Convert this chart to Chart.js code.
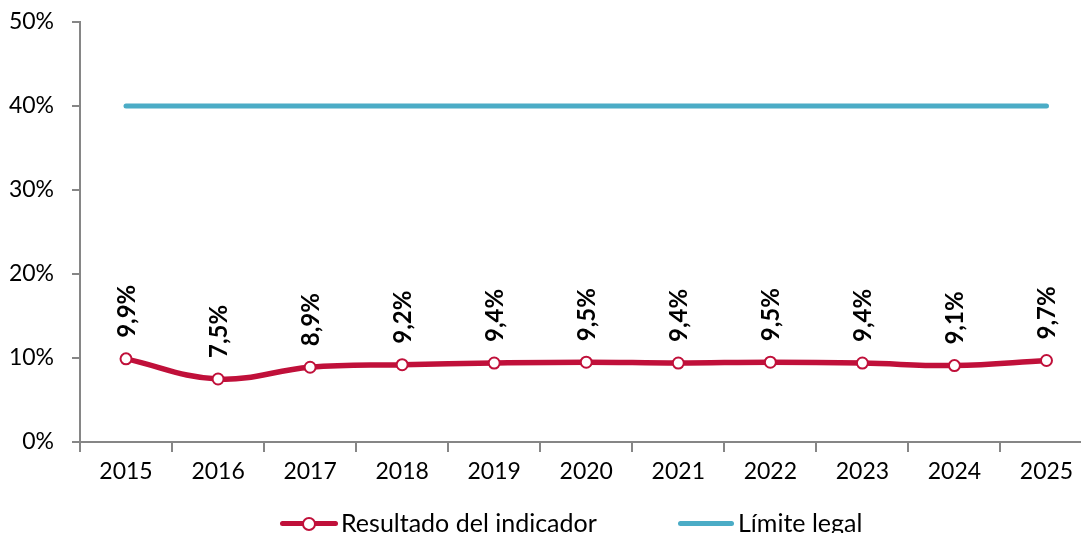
<!DOCTYPE html>
<html lang="es">
<head>
<meta charset="utf-8">
<title>Resultado del indicador</title>
<script src="https://cdn.jsdelivr.net/npm/chart.js@4/dist/chart.umd.min.js"></script>
<style>
  html, body { margin: 0; padding: 0; background: #fff; }
  #wrap { position: relative; width: 1081px; height: 533px; overflow: hidden; }
  #chartBox { position: absolute; left: 0; top: 0; width: 1100px; height: 533px; }
  #legend {
    position: absolute; left: 0; top: 507px; width: 1081px; height: 30px;
    font-family: Lato, sans-serif; font-size: 25px; color: #000;
  }
  .leg-item { position: absolute; top: 0; display: flex; align-items: center; height: 30px; }
  .leg-sym { position: relative; height: 30px; }
  .leg-sym .bar { position: absolute; left: 0; right: 0; top: 14px; height: 5px; border-radius: 3px; }
  .leg-sym .dot {
    position: absolute; left: 50%; top: 10px; width: 10px; height: 10px; margin-left: -7px;
    border: 2px solid #C0103A; border-radius: 50%; background: #fff;
  }
</style>
</head>
<body>
<div id="wrap">
  <div id="chartBox"><canvas id="indicadorChart"></canvas></div>
  <div id="legend">
    <div class="leg-item" style="left:280px">
      <span class="leg-sym" style="width:58px"><span class="bar" style="background:#C0103A"></span><span class="dot"></span></span>
      <span style="margin-left:3px">Resultado del indicador</span>
    </div>
    <div class="leg-item" style="left:678px">
      <span class="leg-sym" style="width:56px"><span class="bar" style="background:#4BACC6"></span></span>
      <span style="margin-left:4px">Límite legal</span>
    </div>
  </div>
</div>
<script>
(function () {
    'use strict';

    // ── Data ────────────────────────────────────────────────────
    const years     = ['2015', '2016', '2017', '2018', '2019', '2020', '2021', '2022', '2023', '2024', '2025'];
    const resultado = [9.9, 7.5, 8.9, 9.2, 9.4, 9.5, 9.4, 9.5, 9.4, 9.1, 9.7];
    const limite    = [40, 40, 40, 40, 40, 40, 40, 40, 40, 40, 40];
    const yTicks    = [0, 10, 20, 30, 40, 50];

    const RED  = '#C0103A';
    const BLUE = '#4BACC6';
    const AXIS = '#868686';
    const FONT = 'Lato, sans-serif';

    function formatPct(v) {
        return v.toFixed(1).replace('.', ',') + '%';
    }

    // Vertical value labels above the indicator points
    const valueLabels = {
        id: 'valueLabels',
        afterDatasetsDraw(chart) {
            const ctx  = chart.ctx;
            const meta = chart.getDatasetMeta(0);
            ctx.save();
            ctx.font = 'bold 24px ' + FONT;
            ctx.fillStyle = '#000';
            ctx.textAlign = 'left';
            ctx.textBaseline = 'middle';
            meta.data.forEach((pt, i) => {
                ctx.save();
                ctx.translate(pt.x, pt.y - 21);
                ctx.rotate(-Math.PI / 2);
                ctx.fillText(formatPct(resultado[i]), 0, 1);
                ctx.restore();
            });
            ctx.restore();
        }
    };

    new Chart(document.getElementById('indicadorChart'), {
        type: 'line',
        data: {
            labels: years,
            datasets: [{
                label: 'Resultado del indicador',
                data: resultado,
                borderColor: RED,
                borderWidth: 5.5,
                tension: 0.4,
                pointRadius: 5.5,
                pointBorderWidth: 2,
                pointBackgroundColor: '#fff',
                pointBorderColor: RED,
                order: 0,
            }, {
                label: 'Límite legal',
                data: limite,
                borderColor: BLUE,
                borderWidth: 5,
                borderCapStyle: 'round',
                pointRadius: 0,
                order: 1,
            }],
        },
        options: {
            responsive: true,
            maintainAspectRatio: false,
            animation: false,
            layout: { padding: { top: 22, right: 0, bottom: 0, left: 0 } },
            plugins: {
                legend: { display: false },
                tooltip: { enabled: false },
            },
            scales: {
                x: {
                    offset: true,
                    grid: {
                        offset: true,
                        drawOnChartArea: false,
                        drawTicks: true,
                        tickLength: 10,
                        color: AXIS,
                        lineWidth: 2,
                    },
                    border: { color: AXIS, width: 2 },
                    ticks: {
                        color: '#000',
                        font: { family: FONT, size: 23 },
                        padding: 6,
                        maxRotation: 0,
                    },
                    afterFit: function (s) {
                        s.height = 91;
                        s.paddingLeft = 0;
                        s.paddingRight = 0;
                    },
                },
                y: {
                    min: 0,
                    max: 50,
                    afterBuildTicks: function (s) {
                        s.ticks = yTicks.map(v => ({ value: v }));
                    },
                    grid: {
                        drawOnChartArea: false,
                        drawTicks: true,
                        tickLength: 8,
                        color: AXIS,
                        lineWidth: 2,
                    },
                    border: { color: AXIS, width: 2 },
                    ticks: {
                        color: '#000',
                        font: { family: FONT, size: 23 },
                        padding: 18,
                        callback: function (v) { return v + '%'; },
                    },
                    afterFit: function (s) {
                        s.width = 80;
                        s.paddingTop = 0;
                        s.paddingBottom = 0;
                    },
                },
            },
        },
        plugins: [valueLabels],
    });
})();
</script>
</body>
</html>
